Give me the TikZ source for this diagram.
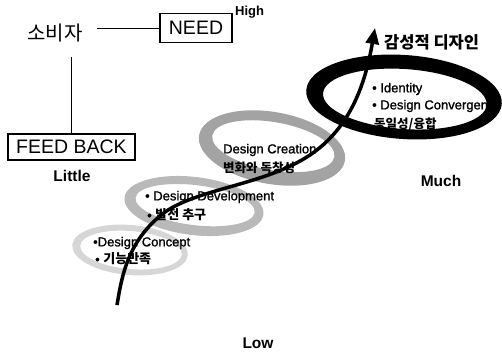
\documentclass[tikz,border=0pt]{standalone}
\usepackage{fontspec}
\setmainfont{Liberation Sans}
\newfontfamily\medsans[FakeBold=1.3]{Liberation Sans}
\newfontfamily\kr{Noto Sans CJK KR}
\usetikzlibrary{arrows.meta}
\begin{document}
\begin{tikzpicture}[x=1pt,y=-1pt,
  lbl/.style={anchor=west,inner sep=0pt,font=\fontsize{13}{15}\selectfont\medsans},
  klbl/.style={anchor=west,inner sep=0pt,font=\fontsize{12.5}{15}\selectfont\kr\bfseries},
  bigbox/.style={draw,line width=1.1pt,inner sep=0pt,font=\fontsize{19.5}{22}\selectfont},
  axislbl/.style={inner sep=0pt,font=\fontsize{15.5}{18}\selectfont\bfseries},
  conn/.style={line width=0.9pt},
  ring/.style={even odd rule},
]
\useasboundingbox (0,0) rectangle (502,354);

% top-left structure
\node[inner sep=0pt,font=\fontsize{20}{24}\selectfont\kr] (sobija) at (55,33) {소비자};
\node[bigbox,minimum width=72pt,minimum height=29pt] (need) at (196,28) {NEED};
\node[bigbox,minimum width=127pt,minimum height=26pt] (feedback) at (71.5,147) {FEED BACK};
\coordinate (hstart) at (97,28);
\coordinate (vstart) at (71.5,57);
\draw[conn] (hstart) -- (need.west);
\draw[conn] (vstart) -- (feedback.north);

\node[inner sep=0pt,anchor=west,font=\fontsize{13}{15}\selectfont\bfseries] (high) at (235,12) {High};
\node[axislbl] (little) at (72,176) {Little};
\node[axislbl] (much) at (441,181) {Much};
\node[axislbl] (low) at (258,343) {Low};
\node[inner sep=0pt,anchor=west,font=\fontsize{16.5}{20}\selectfont\kr\bfseries] (goal) at (384,42) {감성적 디자인};

% rings
\fill[gray!32,ring,rotate around={-5:(130,250)}]
  (130,250) ellipse[x radius=58pt,y radius=25pt]
  (131,250) ellipse[x radius=51pt,y radius=19pt];
\fill[gray!55,ring,rotate around={-7:(194,206)}]
  (194,206) ellipse[x radius=70pt,y radius=29pt]
  (195,205) ellipse[x radius=60pt,y radius=20pt];
\fill[gray!72,ring,rotate around={-10:(272,148)}]
  (272,148) ellipse[x radius=74pt,y radius=36pt]
  (273,146) ellipse[x radius=62pt,y radius=24pt];

% labels
\node[lbl] (t1a) at (93,243) {•Design Concept};
\node[lbl] (t1b) at (95,259) {• {\kr\bfseries 기능만족}};
\node[lbl] (t2a) at (145,197) {• Design Development};
\node[lbl] (t2b) at (147,215) {• {\kr\bfseries 발전 추구}};
\node[lbl] (t3a) at (223,150) {Design Creation};
\node[klbl] (t3b) at (223,168) {변화와 독창성};
\node[lbl] (t4a) at (372,89) {• Identity};
\node[lbl] (t4b) at (372,106) {• Design Convergence};
\node[klbl] (t4c) at (374,124) {동일성/융합};

\fill[black,ring,rotate around={-4:(404,97)}]
  (404,97) ellipse[x radius=98pt,y radius=42pt]
  (405,99) ellipse[x radius=82pt,y radius=30pt];

% rising arrow
\coordinate (cstart) at (117,305);
\coordinate (ctip) at (375,28);
\draw[line width=3.5pt,-{Triangle[length=16pt,width=13pt]}]
  (cstart) .. controls (122,275) and (128,240) .. (165,212)
  .. controls (200,188) and (265,185) .. (310,155)
  .. controls (350,128) and (365,85) .. (ctip);
\end{tikzpicture}
\end{document}
